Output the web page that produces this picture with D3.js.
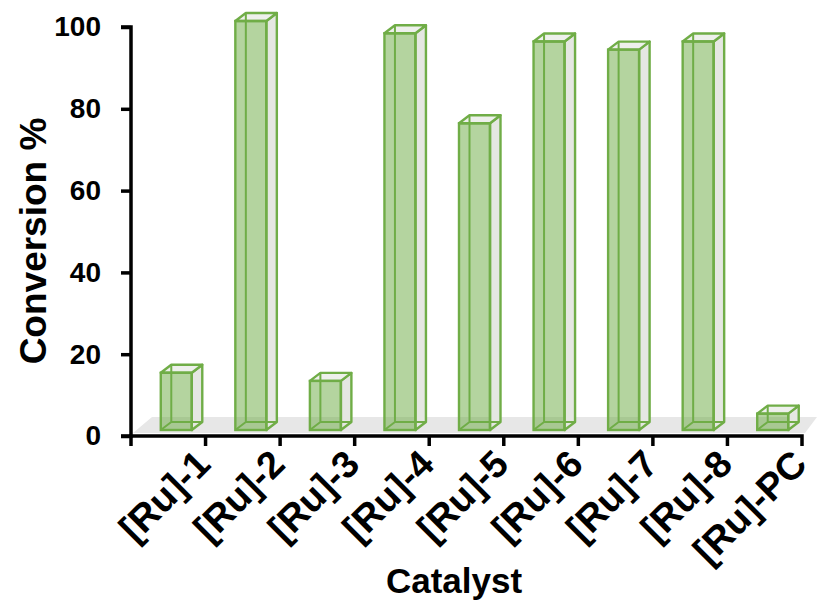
<!DOCTYPE html>
<html>
<head>
<meta charset="utf-8">
<script src="https://cdn.jsdelivr.net/npm/d3@7"></script>
<style>
  html, body { margin: 0; padding: 0; background: #fff; }
  svg { display: block; font-family: "Liberation Sans", Arial, sans-serif; font-weight: bold; }
</style>
</head>
<body>
<svg id="chart" width="817" height="602"></svg>
<script>
// Conversion by catalyst
const catalysts = ["[Ru]-1", "[Ru]-2", "[Ru]-3", "[Ru]-4", "[Ru]-5", "[Ru]-6", "[Ru]-7", "[Ru]-8", "[Ru]-PC"];
const conversion = [14, 100, 12, 97, 75, 95, 93, 95, 4];
const yTicks = [0, 20, 40, 60, 80, 100];

const svg = d3.select("#chart");

// plot frame
const plotLeft = 131, plotRight = 802, plotTop = 27, plotBottom = 436;

const x = d3.scaleBand().domain(catalysts).range([plotLeft, plotRight]).padding(0);
const y = d3.scaleLinear().domain([0, 100]).range([plotBottom, plotTop]);

// 3D projection: depth offset of the back face, and front-floor offset
const depthX = 10.5, depthY = -8;
const floorLift = 6;          // front face of bars sits this far above the axis line
const barW = 31;              // front face width
const barShift = 8;           // front face centre shift from band centre

const stroke = "#70ad47";
const pts = a => a.map(p => p.join(",")).join(" ");

// floor
svg.append("polygon")
  .attr("points", pts([[plotLeft + 2, plotBottom - 3], [plotLeft + 21, plotBottom - 19], [817, plotBottom - 19], [plotRight + 3, plotBottom - 3]]))
  .attr("fill", "#e7e7e7");

// bars as translucent boxes
const bars = svg.append("g").selectAll("g")
  .data(catalysts.map((c, i) => ({c, v: conversion[i]}))).join("g");

bars.each(function(d) {
  const g = d3.select(this);
  const cx = x(d.c) + x.bandwidth() / 2 + barShift;
  const x0 = cx - barW / 2, x1 = cx + barW / 2;
  const yb = plotBottom - floorLift;
  const yt = yb - (y(0) - y(d.v));
  const bx0 = x0 + depthX, bx1 = x1 + depthX;
  const byb = yb + depthY, byt = yt + depthY;

  // side face
  g.append("polygon").attr("points", pts([[x1, yt], [bx1, byt], [bx1, byb], [x1, yb]]))
    .attr("fill", "#e5e7e2").attr("stroke", stroke).attr("stroke-width", 2.4).attr("stroke-linejoin", "round");
  // top face
  g.append("polygon").attr("points", pts([[x0, yt], [bx0, byt], [bx1, byt], [x1, yt]]))
    .attr("fill", "#eef0ec").attr("stroke", stroke).attr("stroke-width", 2.4).attr("stroke-linejoin", "round");
  // hidden back edges seen through the front face
  g.append("path").attr("d", `M${bx0},${byt}L${bx0},${byb}L${bx1},${byb}M${x0},${yb}L${bx0},${byb}`)
    .attr("fill", "none").attr("stroke", stroke).attr("stroke-width", 2);
  // front face
  g.append("rect").attr("x", x0).attr("y", yt).attr("width", barW).attr("height", yb - yt)
    .attr("fill", "rgba(112,173,71,0.52)").attr("stroke", stroke).attr("stroke-width", 2.4);
});

// axes
const yAxis = svg.append("g").attr("transform", `translate(${plotLeft},0)`)
  .call(d3.axisLeft(y).tickValues(yTicks).tickSize(10).tickPadding(20));
const xAxis = svg.append("g").attr("transform", `translate(0,${plotBottom})`)
  .call(d3.axisBottom(x).tickSize(0).tickFormat(""));

[yAxis, xAxis].forEach(a => {
  a.select(".domain").attr("stroke", "#000").attr("stroke-width", 3.5);
  a.selectAll(".tick line").attr("stroke", "#000").attr("stroke-width", 3.5);
});
yAxis.select(".domain").attr("d", `M-10,${plotTop}H0V${plotBottom}H-10`);
xAxis.select(".domain").attr("d", `M${plotLeft},10V0H${plotRight}V10`);
yAxis.selectAll(".tick text").attr("font-size", 28).attr("font-weight", "bold").attr("fill", "#000")
  .attr("font-family", "Liberation Sans, Arial, sans-serif");

// category boundary ticks
xAxis.selectAll("line.bound").data(catalysts.slice(1)).join("line").attr("class", "bound")
  .attr("x1", d => x(d)).attr("x2", d => x(d)).attr("y1", 0).attr("y2", 10)
  .attr("stroke", "#000").attr("stroke-width", 3.5);

// rotated category labels
svg.append("g").selectAll("text").data(catalysts).join("text")
  .attr("transform", d => `translate(${x(d) + x.bandwidth() / 2 + 25},${plotBottom + 11}) rotate(-45)`)
  .attr("text-anchor", "end")
  .attr("dominant-baseline", "hanging")
  .attr("font-size", 38).attr("fill", "#000")
  .text(d => d);

// axis titles
svg.append("text")
  .attr("transform", `translate(46,241) rotate(-90)`)
  .attr("text-anchor", "middle")
  .attr("font-size", 37).attr("fill", "#000")
  .text("Conversion %");

svg.append("text")
  .attr("x", 454).attr("y", 593)
  .attr("text-anchor", "middle")
  .attr("font-size", 35).attr("fill", "#000")
  .text("Catalyst");
</script>
</body>
</html>
